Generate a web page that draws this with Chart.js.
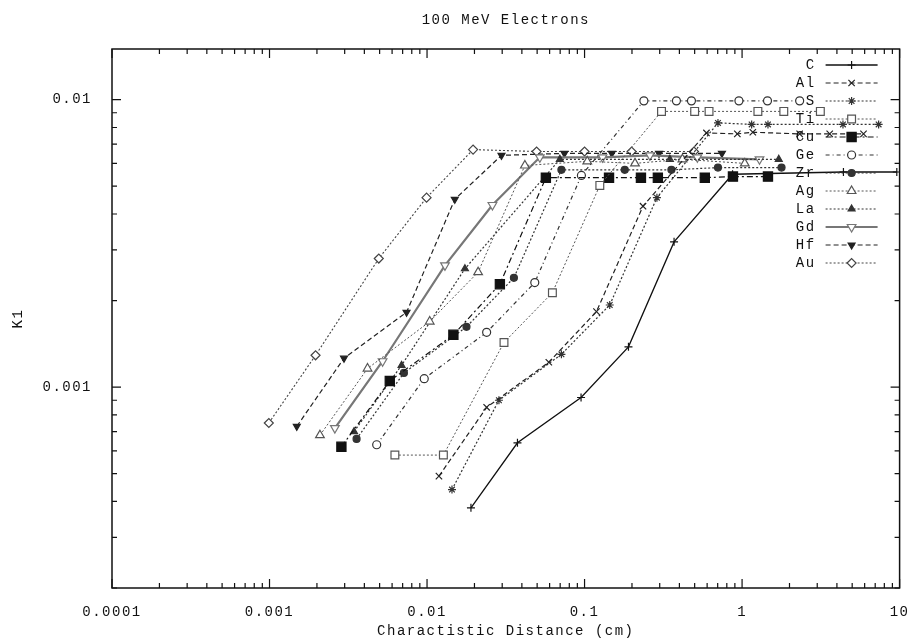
<!DOCTYPE html>
<html>
<head>
<meta charset="utf-8">
<script src="https://cdn.jsdelivr.net/npm/chart.js@4.4.0/dist/chart.umd.min.js"></script>
<style>
  html, body { margin: 0; padding: 0; background: #fff; }
  #wrap { width: 916px; height: 643px; }
</style>
</head>
<body>
<div id="wrap"><canvas id="chart" width="916" height="643"></canvas></div>
<script>
/* ── Data (x = distance in cm, y = K1) ── */
const cX  = [0.019, 0.0375, 0.095, 0.19, 0.37, 0.87, 4.4, 9.6];
const cY  = [0.00038, 0.00064, 0.00092, 0.00138, 0.0032, 0.0055, 0.0056, 0.0056];
const alX = [0.0119, 0.0239, 0.0593, 0.119, 0.235, 0.594, 0.933, 1.17, 2.32, 3.6, 5.9];
const alY = [0.00049, 0.00085, 0.00122, 0.00183, 0.00426, 0.00766, 0.0076, 0.0077, 0.0076, 0.0076, 0.0076];
const sX  = [0.0144, 0.0286, 0.0713, 0.1445, 0.288, 0.703, 1.15, 1.46, 4.37, 7.36];
const sY  = [0.00044, 0.0009, 0.0013, 0.00193, 0.00456, 0.0083, 0.0082, 0.0082, 0.0082, 0.0082];
const tiX = [0.00625, 0.0127, 0.0308, 0.0625, 0.125, 0.308, 0.5, 0.617, 1.26, 1.84, 3.14];
const tiY = [0.00058, 0.00058, 0.00143, 0.00213, 0.00503, 0.0091, 0.0091, 0.0091, 0.0091, 0.0091, 0.0091];
const cuX = [0.00286, 0.0058, 0.0147, 0.029, 0.0568, 0.143, 0.228, 0.292, 0.58, 0.875, 1.46];
const cuY = [0.00062, 0.00105, 0.00152, 0.00228, 0.00535, 0.00535, 0.00535, 0.00535, 0.00535, 0.0054, 0.0054];
const geX = [0.00479, 0.0096, 0.0239, 0.0483, 0.0955, 0.238, 0.383, 0.477, 0.955, 1.45, 2.32];
const geY = [0.00063, 0.00107, 0.00155, 0.00231, 0.00545, 0.0099, 0.0099, 0.0099, 0.0099, 0.0099, 0.0099];
const zrX = [0.00357, 0.00713, 0.0178, 0.0356, 0.0713, 0.18, 0.356, 0.703, 1.78];
const zrY = [0.00066, 0.00112, 0.00162, 0.0024, 0.0057, 0.0057, 0.0057, 0.0058, 0.0058];
const agX = [0.00209, 0.00419, 0.0104, 0.0211, 0.0418, 0.104, 0.209, 0.418, 1.04];
const agY = [0.00068, 0.00116, 0.00169, 0.00251, 0.0059, 0.0061, 0.006, 0.0062, 0.006];
const laX = [0.00344, 0.00689, 0.0174, 0.0697, 0.348, 1.71];
const laY = [0.0007, 0.00119, 0.00258, 0.0062, 0.0062, 0.0062];
const gdX = [0.0026, 0.00522, 0.013, 0.026, 0.052, 0.13, 0.26, 0.52, 1.29];
const gdY = [0.00072, 0.00123, 0.00265, 0.0043, 0.0063, 0.0063, 0.0064, 0.0063, 0.0062];
const hfX = [0.00149, 0.00297, 0.00741, 0.015, 0.0297, 0.0745, 0.149, 0.297, 0.745];
const hfY = [0.00073, 0.00126, 0.00182, 0.0045, 0.0064, 0.0065, 0.0065, 0.0065, 0.0065];
const auX = [0.00099, 0.00196, 0.00494, 0.00993, 0.0196, 0.0496, 0.1, 0.199, 0.495];
const auY = [0.00075, 0.00129, 0.0028, 0.00456, 0.0067, 0.0066, 0.0066, 0.0066, 0.0066];

const xMin = 0.0001, xMax = 10;
const yMin = 0.0002, yMax = 0.015;

const FONT = "'Liberation Mono', 'DejaVu Sans Mono', monospace";
const INK  = '#111';

/* ── Series styles (gnuplot-like) ── */
const series = [
  { label: 'C',  x: cX,  y: cY,  color: '#111', dash: [],           width: 1.3, point: 'cross',    r: 4,   fill: false },
  { label: 'Al', x: alX, y: alY, color: '#222', dash: [5, 3],       width: 1.2, point: 'crossRot', r: 4.5, fill: false },
  { label: 'S',  x: sX,  y: sY,  color: '#333', dash: [2, 2],       width: 1.2, point: 'star',     r: 4,   fill: true  },
  { label: 'Ti', x: tiX, y: tiY, color: '#555', dash: [2, 2],       width: 1,   point: 'rect',     r: 5.5, fill: false },
  { label: 'Cu', x: cuX, y: cuY, color: '#111', dash: [6, 3, 2, 3], width: 1.2, point: 'rect',     r: 6.5, fill: true  },
  { label: 'Ge', x: geX, y: geY, color: '#333', dash: [4, 3, 1, 3], width: 1.2, point: 'circle',   r: 4,   fill: false },
  { label: 'Zr', x: zrX, y: zrY, color: '#333', dash: [2, 2],       width: 1.2, point: 'circle',   r: 3.5, fill: true  },
  { label: 'Ag', x: agX, y: agY, color: '#555', dash: [2, 2],       width: 1,   point: 'triangle', r: 5,   fill: false },
  { label: 'La', x: laX, y: laY, color: '#333', dash: [2, 2],       width: 1.2, point: 'triangle', r: 4,   fill: true  },
  { label: 'Gd', x: gdX, y: gdY, color: '#777', dash: [],           width: 2.2, point: 'triangle', r: 5,   fill: false, rot: 180 },
  { label: 'Hf', x: hfX, y: hfY, color: '#222', dash: [5, 3],       width: 1.2, point: 'triangle', r: 4,   fill: true,  rot: 180 },
  { label: 'Au', x: auX, y: auY, color: '#444', dash: [2, 2],       width: 1.1, point: 'rectRot',  r: 4.5, fill: false },
];

const datasets = series.map(s => ({
  label: s.label,
  data: s.x.map((v, i) => ({ x: v, y: s.y[i] })),
  showLine: true,
  borderColor: s.color,
  borderWidth: s.width,
  borderDash: s.dash,
  pointStyle: s.point,
  pointRadius: s.r,
  pointRotation: s.rot || 0,
  pointBorderColor: s.color,
  pointBorderWidth: 1.2,
  pointBackgroundColor: s.fill ? s.color : '#fff',
  tension: 0,
}));

/* ── Helpers ── */
function isDecade(v) {
  const e = Math.log10(v);
  return Math.abs(e - Math.round(e)) < 1e-6;
}
function decadeLabel(v) {
  const e = Math.round(Math.log10(v));
  return e < 0 ? v.toFixed(-e) : String(Math.round(v));
}
function logTicks(min, max) {
  const out = [];
  for (let e = Math.floor(Math.log10(min)); e <= Math.ceil(Math.log10(max)); e++) {
    for (let m = 1; m <= 9; m++) {
      const v = m * Math.pow(10, e);
      if (v >= min * 0.9999 && v <= max * 1.0001) out.push({ v, major: m === 1 });
    }
  }
  return out;
}

/* ── Wide typewriter-ish spacing for all text ── */
const spacingPlugin = {
  id: 'spacing',
  beforeDraw(chart) { chart.ctx.letterSpacing = '1.5px'; }
};

/* ── Frame, inward ticks, title and key ── */
const framePlugin = {
  id: 'frame',
  afterDraw(chart) {
    const { ctx, chartArea: a, scales: { x, y } } = chart;
    ctx.save();
    ctx.strokeStyle = INK;
    ctx.lineWidth = 1.5;
    ctx.setLineDash([]);
    ctx.strokeRect(a.left, a.top, a.right - a.left, a.bottom - a.top);

    ctx.lineWidth = 1.2;
    ctx.beginPath();
    logTicks(xMin, xMax).forEach(t => {
      const px = x.getPixelForValue(t.v), len = t.major ? 9 : 5;
      ctx.moveTo(px, a.bottom); ctx.lineTo(px, a.bottom - len);
      ctx.moveTo(px, a.top);    ctx.lineTo(px, a.top + len);
    });
    logTicks(yMin, yMax).forEach(t => {
      const py = y.getPixelForValue(t.v), len = t.major ? 9 : 5;
      ctx.moveTo(a.left, py);  ctx.lineTo(a.left + len, py);
      ctx.moveTo(a.right, py); ctx.lineTo(a.right - len, py);
    });
    ctx.stroke();

    // title
    ctx.letterSpacing = '1.5px';
    ctx.fillStyle = INK;
    ctx.font = `14px ${FONT}`;
    ctx.textAlign = 'center';
    ctx.textBaseline = 'middle';
    ctx.fillText('100 MeV Electrons', (a.left + a.right) / 2, 20);

    // key, top right inside the frame
    ctx.textAlign = 'right';
    series.forEach((s, i) => {
      const row = a.top + 16 + i * 18;
      const x0 = a.right - 74, x1 = a.right - 22, xm = (x0 + x1) / 2;
      ctx.fillStyle = INK;
      ctx.fillText(s.label, a.right - 84, row);
      ctx.strokeStyle = s.color;
      ctx.lineWidth = s.width;
      ctx.setLineDash(s.dash);
      ctx.beginPath(); ctx.moveTo(x0, row); ctx.lineTo(x1, row); ctx.stroke();
      ctx.setLineDash([]);
      ctx.lineWidth = 1.2;
      ctx.fillStyle = s.fill ? s.color : '#fff';
      Chart.helpers.drawPoint(ctx, { pointStyle: s.point, radius: s.r, rotation: s.rot || 0, borderWidth: 1.2 }, xm, row);
    });
    ctx.restore();
  }
};

/* ── Chart ── */
new Chart(document.getElementById('chart'), {
  type: 'scatter',
  data: { datasets },
  options: {
    responsive: false,
    animation: false,
    layout: { padding: { top: 49, right: 16, left: 0, bottom: 0 } },
    plugins: { legend: { display: false }, tooltip: { enabled: false } },
    scales: {
      x: {
        type: 'logarithmic', min: xMin, max: xMax,
        afterFit: s => { s.height = 55; },
        grid: { display: false }, border: { display: false },
        ticks: {
          autoSkip: false, maxRotation: 0, padding: 8, color: INK,
          font: { family: FONT, size: 14 },
          callback: v => isDecade(v) ? decadeLabel(v) : null,
        },
        title: { display: true, text: 'Charactistic Distance (cm)', color: INK, padding: { top: 2, bottom: 3 }, font: { family: FONT, size: 14 } },
      },
      y: {
        type: 'logarithmic', min: yMin, max: yMax,
        afterFit: s => { s.width = 112; },
        grid: { display: false }, border: { display: false },
        ticks: {
          autoSkip: false, padding: 12, color: INK,
          font: { family: FONT, size: 14 },
          callback: v => isDecade(v) ? decadeLabel(v) : null,
        },
        title: { display: true, text: 'K1', color: INK, padding: { top: 10, bottom: 0 }, font: { family: FONT, size: 14 } },
      }
    }
  },
  plugins: [spacingPlugin, framePlugin]
});
</script>
</body>
</html>
